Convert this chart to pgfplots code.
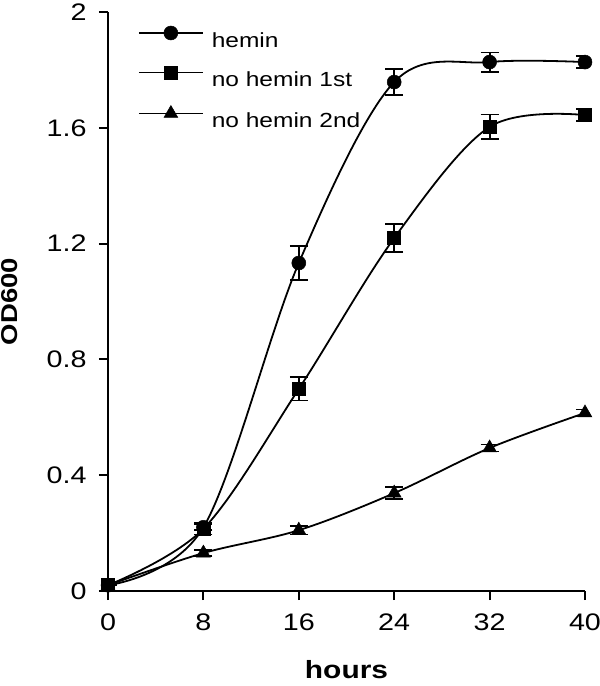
\documentclass[border=0pt]{standalone}
\usepackage{fontspec}
\setmainfont{Liberation Sans}[FakeStretch=1.2]
\usepackage{pgfplots}
\pgfplotsset{compat=1.18}
\begin{document}
\begin{tikzpicture}
\begin{axis}[
  scale only axis, width=477bp, height=579bp,
  xmin=0, xmax=40, ymin=0, ymax=2,
  axis x line*=bottom, axis y line*=left,
  axis line style={line width=2.2bp, black},
  xtick={0,8,16,24,32,40}, ytick={0,0.4,0.8,1.2,1.6,2},
  minor tick num=0,
  tick style={line width=2bp, black},
  tick align=outside, major tick length=9bp,
  /pgf/number format/assume math mode=true,
  xticklabel style={font=\fontsize{24}{28}\selectfont, yshift=-10bp},
  yticklabel style={font=\fontsize{24}{28}\selectfont, xshift=-9bp},
  xlabel={\textbf{hours}},
  ylabel={\textbf{OD600}},
  xlabel style={font=\fontsize{25}{30}\selectfont, inner sep=0pt, outer sep=0pt, at={(axis description cs:0.5,0)}, anchor=base, yshift=-87bp},
  ylabel style={font=\fontsize{23}{28}\selectfont, inner sep=0pt, outer sep=0pt, at={([xshift=-90bp]axis description cs:0,0.5)}, anchor=base},
  legend style={draw=none, fill=none, at={(rel axis cs:0,1)}, anchor=north west,
    xshift=30bp, yshift=-14bp, inner sep=0pt, outer sep=0pt,
    font=\fontsize{20.5}{24}\selectfont, row sep=18.5bp, column sep=8bp,
    nodes={inner sep=0pt, text height=15bp, text depth=0pt}},
  legend cell align=left,
  legend image code/.code={\draw[mark repeat=2,mark phase=2,#1,line width=1.8bp] plot coordinates {(0bp,7bp)(32bp,7bp)(64bp,7bp)};},
  error bars/error bar style={line width=1.8bp, black, solid},
  error bars/error mark options={rotate=90, line width=1.8bp, mark size=9bp, black},
]
\addplot[black, line width=1.8bp, smooth, tension=0.55, mark=*, mark size=7bp,
  mark options={solid, fill=black, draw=black, line width=0.5bp},
  error bars/.cd, y dir=both, y explicit] coordinates {
  (0,0.02) +- (0,0)
  (8,0.22) +- (0,0.01)
  (16,1.133) +- (0,0.06)
  (24,1.758) +- (0,0.045)
  (32,1.827) +- (0,0.033)
  (40,1.827) +- (0,0.02)
};
\addlegendentry{hemin}
\addplot[black, line width=1.8bp, smooth, tension=0.55, mark=square*, mark size=6.5bp,
  mark options={solid, fill=black, draw=black, line width=0.5bp},
  error bars/.cd, y dir=both, y explicit] coordinates {
  (0,0.02) +- (0,0)
  (8,0.215) +- (0,0.02)
  (16,0.698) +- (0,0.04)
  (24,1.219) +- (0,0.048)
  (32,1.603) +- (0,0.043)
  (40,1.644) +- (0,0.02)
};
\addlegendentry{no hemin 1st}
\addplot[black, line width=1.8bp, smooth, tension=0.55, mark=triangle*, mark size=8bp,
  mark options={solid, fill=black, draw=black, line width=0.5bp},
  error bars/.cd, y dir=both, y explicit] coordinates {
  (0,0.02) +- (0,0)
  (8,0.131) +- (0,0.01)
  (16,0.21) +- (0,0.015)
  (24,0.338) +- (0,0.02)
  (32,0.494) +- (0,0.012)
  (40,0.615) +- (0,0.012)
};
\addlegendentry{no hemin 2nd}
\end{axis}
\pgfresetboundingbox
\path (-108bp,-95bp) rectangle (492bp,591bp);
\end{tikzpicture}
\end{document}
